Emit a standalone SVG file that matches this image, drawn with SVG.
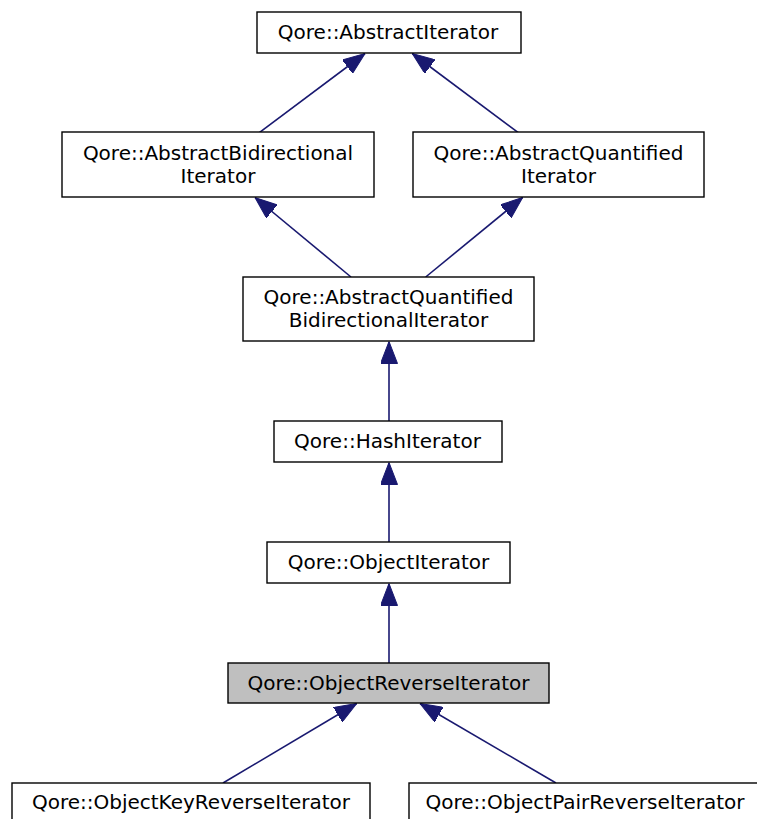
<svg xmlns="http://www.w3.org/2000/svg" width="757" height="819" viewBox="0 0 757 819">
  <style>
    .box { fill: #ffffff; stroke: #000000; stroke-width: 1.4; }
    .box.current { fill: #bfbfbf; }
    .lbl { font-family: "DejaVu Sans", "Liberation Sans", sans-serif; font-size: 20px; fill: #000000; text-anchor: middle; }
    .edge { fill: none; stroke: #191970; stroke-width: 1.6; marker-end: url(#inherit); }
  </style>
  <defs>
    <marker id="inherit" viewBox="0 0 22 17" refX="22" refY="8.5" markerWidth="22" markerHeight="17" markerUnits="userSpaceOnUse" orient="auto">
      <path d="M0,0 L22,8.5 L0,17 z" fill="#191970" stroke="#191970" stroke-width="1"/>
    </marker>
  </defs>
  <rect width="757" height="819" fill="#ffffff"/>

  <g id="edges">
    <path class="edge" d="M259.3,132.7 L365,53.5"/>
    <path class="edge" d="M518.3,132.7 L412.3,53.5"/>
    <path class="edge" d="M351,277 L255,197.5"/>
    <path class="edge" d="M425.7,277 L522.7,197.5"/>
    <path class="edge" d="M389,421 L389,341.5"/>
    <path class="edge" d="M389,542 L389,462.5"/>
    <path class="edge" d="M389,663 L389,583.5"/>
    <path class="edge" d="M223,783 L356.7,703.5"/>
    <path class="edge" d="M556,783 L420,703.5"/>
  </g>

  <g id="node-abstract-iterator">
    <rect class="box" x="257" y="12" width="264" height="41"/>
    <text class="lbl" x="388" y="38.5">Qore::AbstractIterator</text>
  </g>

  <g id="node-abstract-bidirectional-iterator">
    <rect class="box" x="62" y="132" width="312" height="65"/>
    <text class="lbl" x="218" y="159.5">Qore::AbstractBidirectional</text>
    <text class="lbl" x="218" y="183">Iterator</text>
  </g>

  <g id="node-abstract-quantified-iterator">
    <rect class="box" x="413" y="132" width="291" height="65"/>
    <text class="lbl" x="558.5" y="159.5">Qore::AbstractQuantified</text>
    <text class="lbl" x="558.5" y="183">Iterator</text>
  </g>

  <g id="node-abstract-quantified-bidirectional-iterator">
    <rect class="box" x="243" y="277" width="291" height="64"/>
    <text class="lbl" x="388.5" y="304">Qore::AbstractQuantified</text>
    <text class="lbl" x="388.5" y="327">BidirectionalIterator</text>
  </g>

  <g id="node-hash-iterator">
    <rect class="box" x="274" y="421" width="228" height="41"/>
    <text class="lbl" x="387.5" y="447.5">Qore::HashIterator</text>
  </g>

  <g id="node-object-iterator">
    <rect class="box" x="267" y="542" width="243" height="41"/>
    <text class="lbl" x="388.5" y="568.5">Qore::ObjectIterator</text>
  </g>

  <g id="node-object-reverse-iterator">
    <rect class="box current" x="228" y="663" width="321" height="40"/>
    <text class="lbl" x="388.5" y="689.5">Qore::ObjectReverseIterator</text>
  </g>

  <g id="node-object-key-reverse-iterator">
    <rect class="box" x="12" y="783" width="358" height="41"/>
    <text class="lbl" x="191" y="809">Qore::ObjectKeyReverseIterator</text>
  </g>

  <g id="node-object-pair-reverse-iterator">
    <rect class="box" x="409" y="783" width="352" height="41"/>
    <text class="lbl" x="585" y="809">Qore::ObjectPairReverseIterator</text>
  </g>
</svg>
